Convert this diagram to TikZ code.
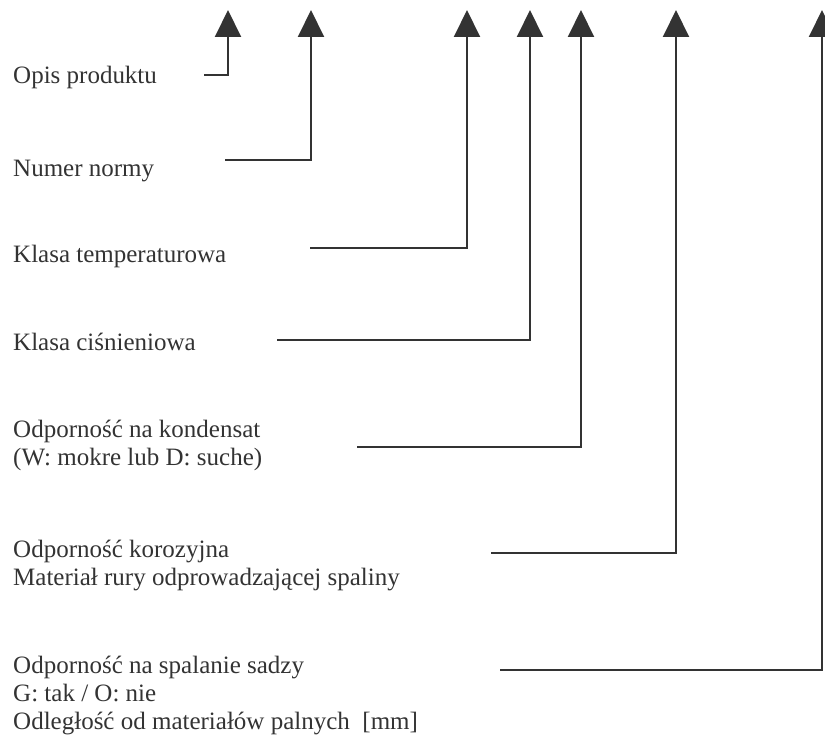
\documentclass[tikz,border=0pt]{standalone}
\usepackage{fontspec}
\setmainfont{Liberation Serif}
\usetikzlibrary{arrows.meta}
\definecolor{ink}{HTML}{333333}
\tikzset{
  lbl/.style={anchor=base west, inner sep=0pt, text=ink, font=\fontsize{25pt}{28pt}\selectfont},
  lead/.style={draw=ink, line width=2pt, -{Triangle[length=27pt,width=26pt,fill=ink]}}
}
\begin{document}
\begin{tikzpicture}[x=1pt,y=-1pt]
\useasboundingbox (0,0) rectangle (825,738);
% labels
\node[lbl] (l1) at (13,84) {Opis produktu};
\node[lbl] (l2) at (13,177) {Numer normy};
\node[lbl] (l3) at (13,262) {Klasa temperaturowa};
\node[lbl] (l4) at (13,350) {Klasa ciśnieniowa};
\node[lbl] (l5a) at (13,437) {Odporność na kondensat};
\node[lbl] (l5b) at (13,465) {(W: mokre lub D: suche)};
\node[lbl] (l6a) at (13,557) {Odporność korozyjna};
\node[lbl] (l6b) at (13,585) {Materiał rury odprowadzającej spaliny};
\node[lbl] (l7a) at (13,673) {Odporność na spalanie sadzy};
\node[lbl] (l7b) at (13,701) {G: tak / O: nie};
\node[lbl] (l7c) at (13,729) {Odległość od materiałów palnych\ \ [mm]};
% leader start points
\coordinate (s1) at (204,75);
\coordinate (s2) at (225,160);
\coordinate (s3) at (310,248);
\coordinate (s4) at (277,340);
\coordinate (s5) at (357,447);
\coordinate (s6) at (491,553);
\coordinate (s7) at (500,670);
% arrow tips
\coordinate (t1) at (228,10);
\coordinate (t2) at (311,10);
\coordinate (t3) at (467,10);
\coordinate (t4) at (530,10);
\coordinate (t5) at (581,10);
\coordinate (t6) at (676,10);
\coordinate (t7) at (822,10);
\foreach \i in {1,...,7} {
  \draw[lead] (s\i) -| (t\i);
}
\end{tikzpicture}
\end{document}
